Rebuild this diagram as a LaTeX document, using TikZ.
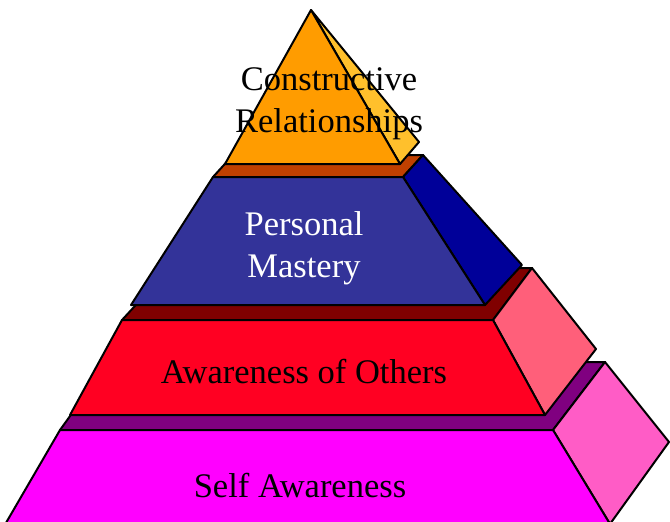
\documentclass[tikz,border=0pt]{standalone}
\usepackage{fontspec}
\setmainfont{Liberation Serif}

\definecolor{orangefront}{HTML}{FF9C00}
\definecolor{orangeside}{HTML}{FFC02C}
\definecolor{browntop}{HTML}{C04000}
\definecolor{bluefront}{HTML}{333399}
\definecolor{blueside}{HTML}{000099}
\definecolor{redtop}{HTML}{800000}
\definecolor{redfront}{HTML}{FF0022}
\definecolor{redside}{HTML}{FF5F7A}
\definecolor{purpletop}{HTML}{800080}
\definecolor{magentafront}{HTML}{FF00FF}
\definecolor{magentaside}{HTML}{FF5CC6}

\begin{document}
\begin{tikzpicture}[x=1pt,y=1pt,yscale=-1,xscale=1,
  face/.style={draw=black,line width=2pt,line join=round},
  tiertext/.style={font=\fontsize{34.5}{42}\selectfont,inner sep=0pt,anchor=base,align=center}]
\useasboundingbox (0,0) rectangle (670,522);

%Shape: bottom tier
\draw[face,fill=purpletop] (60,430) -- (553,430) -- (605,362) -- (109,362) -- cycle;
\draw[face,fill=magentaside] (553,430) -- (605,362) -- (669,442) -- (610,524) -- cycle;
\draw[face,fill=magentafront] (60,430) -- (553,430) -- (610,524) -- (3,528) -- cycle;

%Shape: second tier
\draw[face,fill=redtop] (122,320) -- (493,320) -- (532,268) -- (170,268) -- cycle;
\draw[face,fill=redside] (493,320) -- (532,268) -- (596,349) -- (545,415) -- cycle;
\draw[face,fill=redfront] (122,320) -- (493,320) -- (545,415) -- (70,415) -- cycle;

%Shape: third tier
\draw[face,fill=browntop] (213,177) -- (403,177) -- (423,155) -- (233,155) -- cycle;
\draw[face,fill=blueside] (403,177) -- (423,155) -- (522,265) -- (485,305) -- cycle;
\draw[face,fill=bluefront] (213,177) -- (403,177) -- (485,305) -- (131,305) -- cycle;

%Shape: top pyramid
\draw[face,fill=orangeside] (311,10) -- (419,142) -- (400,164) -- cycle;
\draw[face,fill=orangefront] (311,10) -- (400,164) -- (225,164) -- cycle;

% Text Node (base = last line)
\node[tiertext] (relations) at (329,132) {Constructive\\Relationships};
% Text Node
\node[tiertext,text=white] (mastery) at (304,277) {Personal\\Mastery};
% Text Node
\node[tiertext] (others) at (304,383) {Awareness of Others};
% Text Node
\node[tiertext] (self) at (300,497) {Self Awareness};

\end{tikzpicture}
\end{document}
